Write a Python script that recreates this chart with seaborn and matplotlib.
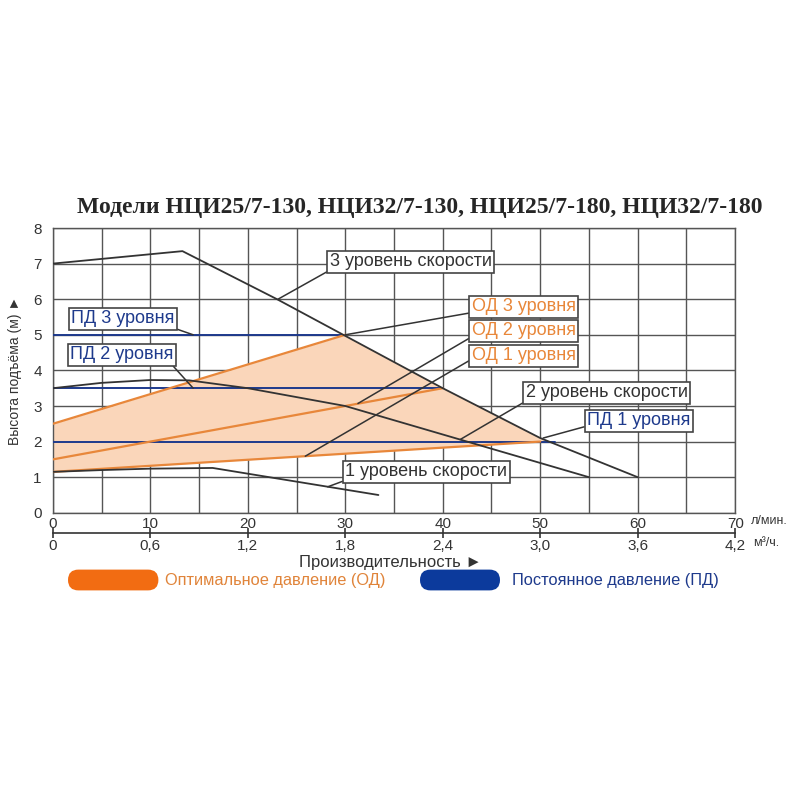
import numpy as np
import matplotlib
matplotlib.use("Agg")
import matplotlib.pyplot as plt
from matplotlib.patches import FancyBboxPatch
import seaborn as sns

# --- данные ---
speed3_q = [0, 13.3, 23, 30, 40, 50, 60]
speed3_h = [7.0, 7.35, 6.0, 4.97, 3.5, 2.1, 1.0]

speed2_q = [0, 5, 10, 14, 20, 30, 40, 55]
speed2_h = [3.5, 3.65, 3.73, 3.72, 3.5, 3.0, 2.2, 1.0]

speed1_q = [0, 5, 10, 16.4, 33.4]
speed1_h = [1.15, 1.2, 1.24, 1.26, 0.5]

od_q = [[0, 30], [0, 40], [0, 50]]          # ОД 3, ОД 2, ОД 1
od_h = [[2.5, 5.0], [1.5, 3.5], [1.15, 2.0]]

pd_levels = [5.0, 3.5, 2.0]                 # ПД 3, ПД 2, ПД 1
pd_end_q = [30, 40, 51.5]

x_ticks = [0, 10, 20, 30, 40, 50, 60, 70]
m3_ticks = [0, 0.6, 1.2, 1.8, 2.4, 3.0, 3.6, 4.2]
m3_labels = ["0", "0,6", "1,2", "1,8", "2,4", "3,0", "3,6", "4,2"]
y_ticks = [0, 1, 2, 3, 4, 5, 6, 7, 8]

title = "Модели НЦИ25/7-130, НЦИ32/7-130, НЦИ25/7-180, НЦИ32/7-180"
labels = ["3 уровень скорости", "ПД 3 уровня", "ПД 2 уровня", "ОД 3 уровня",
          "ОД 2 уровня", "ОД 1 уровня", "2 уровень скорости", "ПД 1 уровня",
          "1 уровень скорости"]

ORANGE = "#E8873A"
FILL = "#FAD6BA"
NAVY = "#1E3A8C"
DARK = "#333333"
GRID = "#555555"

sns.set_style("white")
plt.rcParams["font.family"] = ["Liberation Sans", "DejaVu Sans"]

fig = plt.figure(figsize=(8, 8), dpi=100)
ax = fig.add_axes([0.066, 0.359, 0.853, 0.356])

# закрашенная область ОД: между ОД 1 и min(ОД 3, кривая 3 скорости)
q = np.linspace(0, 60, 601)
od3_ext = np.polyval(np.polyfit(od_q[0], od_h[0], 1), q)
od1_ext = np.polyval(np.polyfit(od_q[2], od_h[2], 1), q)
upper = np.minimum(od3_ext, np.interp(q, speed3_q, speed3_h))
mask = upper >= od1_ext
ax.fill_between(q[mask], od1_ext[mask], upper[mask], color=FILL, lw=0, zorder=1)

# ПД
for lvl, qe in zip(pd_levels, pd_end_q):
    sns.lineplot(x=[0, qe], y=[lvl, lvl], ax=ax, color=NAVY, lw=1.4, zorder=3)

# ОД
for qq, hh in zip(od_q, od_h):
    sns.lineplot(x=qq, y=hh, ax=ax, color=ORANGE, lw=1.6, zorder=4)

# кривые скоростей
for qq, hh in [(speed3_q, speed3_h), (speed2_q, speed2_h), (speed1_q, speed1_h)]:
    sns.lineplot(x=qq, y=hh, ax=ax, color=DARK, lw=1.3, sort=False,
                 estimator=None, zorder=5)

ax.set_xlim(0, 70)
ax.set_ylim(0, 8)
ax.set_xticks(x_ticks)
ax.set_xticks(np.arange(5, 70, 10), minor=True)
ax.set_yticks(y_ticks)
ax.grid(True, which="both", color=GRID, lw=1.0, zorder=0)
ax.set_axisbelow(True)
ax.tick_params(axis="both", which="both", length=0, labelsize=11, colors=DARK)
ax.tick_params(axis="y", pad=8)
ax.tick_params(axis="x", pad=3)
for s in ax.spines.values():
    s.set_color(GRID)
    s.set_linewidth(1.0)
ax.set_xlabel("")
ax.set_ylabel("")

# вторая шкала м³/ч
sec = ax.secondary_xaxis(-0.07, functions=(lambda x: x * 0.06, lambda x: x / 0.06))
sec.set_xticks(m3_ticks)
sec.set_xticklabels(m3_labels)
sec.tick_params(direction="inout", length=7, width=1.2, colors=DARK,
                labelsize=11, pad=1)
sec.spines["bottom"].set_color(DARK)
sec.spines["bottom"].set_linewidth(1.2)

ax.text(1.023, -0.03, "л/мин.", transform=ax.transAxes, fontsize=9,
        color=DARK, va="center", ha="left")
ax.text(1.026, -0.107, "м³/ч.", transform=ax.transAxes, fontsize=9,
        color=DARK, va="center", ha="left")

# подписи с выносками
box = dict(boxstyle="square,pad=0.13", fc="white", ec="#444444", lw=1.2)
ann = [
    (labels[0], (23.1, 6.0), (36.7, 7.05), (0.0, 0.0), DARK),
    (labels[1], (14.4, 5.0), (7.2, 5.45), (0.97, 0.0), NAVY),
    (labels[2], (14.4, 3.5), (7.1, 4.44), (0.97, 0.0), NAVY),
    (labels[3], (30.0, 5.0), (48.3, 5.79), (0.0, 0.15), ORANGE),
    (labels[4], (31.3, 3.07), (48.3, 5.11), (0.0, 0.15), ORANGE),
    (labels[5], (25.9, 1.59), (48.3, 4.41), (0.0, 0.3), ORANGE),
    (labels[6], (41.8, 2.06), (56.8, 3.37), (0.0, 0.0), DARK),
    (labels[7], (50.3, 2.1), (60.1, 2.58), (0.0, 0.2), NAVY),
    (labels[8], (28.2, 0.73), (38.3, 1.15), (0.0, 0.0), DARK),
]
for txt, xy, xyt, rp, col in ann:
    ax.annotate(txt, xy=xy, xytext=xyt, ha="center", va="center",
                fontsize=13, color=col, bbox=box, zorder=6,
                arrowprops=dict(arrowstyle="-", color="#333333", lw=1.1,
                                relpos=rp, shrinkA=0, shrinkB=0))

# заголовок и подписи осей
fig.text(0.525, 0.74, title, ha="center", va="center", fontsize=17,
         fontweight="bold", family=["Liberation Serif", "DejaVu Serif"])
fig.text(0.488, 0.297, "Производительность ►", ha="center", va="center",
         fontsize=12, color=DARK)
fig.text(0.019, 0.537, "Высота подъёма (м) ►", ha="center", va="center",
         rotation=90, fontsize=10, color=DARK)

# легенда
for x0, w, col in [(0.085, 0.113, "#F26C12"), (0.525, 0.1, "#0C3A9C")]:
    fig.patches.append(FancyBboxPatch((x0, 0.262), w, 0.026,
                                      boxstyle="round,pad=0,rounding_size=0.013",
                                      fc=col, ec="none",
                                      transform=fig.transFigure, figure=fig))
fig.text(0.206, 0.2745, "Оптимальное давление (ОД)", ha="left", va="center",
         fontsize=11.8, color="#E0843A")
fig.text(0.64, 0.2745, "Постоянное давление (ПД)", ha="left", va="center",
         fontsize=11.8, color="#1E3A8C")

fig.savefig("out.png", dpi=100, facecolor="white")
